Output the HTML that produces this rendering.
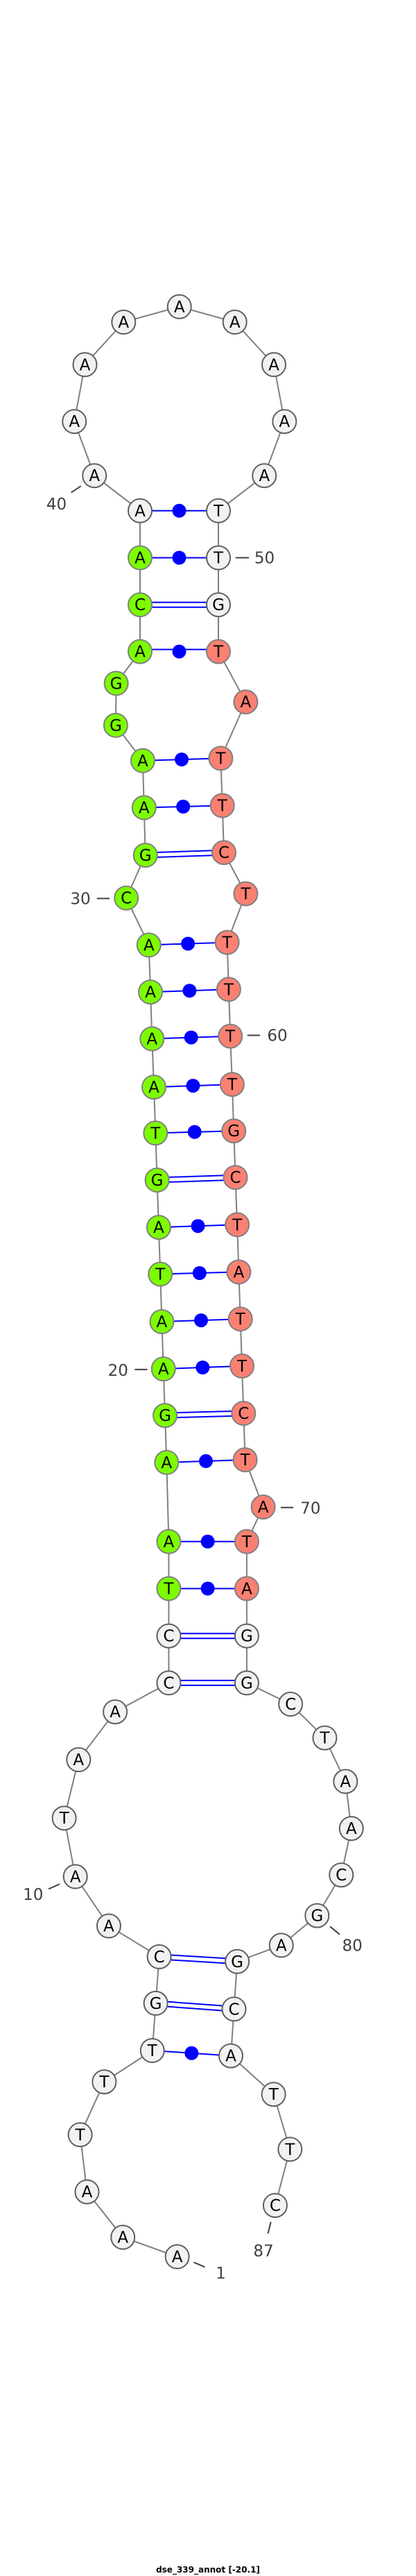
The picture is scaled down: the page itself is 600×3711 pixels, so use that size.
<!DOCTYPE html>
<html><head><meta charset="utf-8"><style>
html,body{margin:0;padding:0;background:#fff;}
svg{display:block;}
.n text{font-family:"DejaVu Sans","Liberation Sans",sans-serif;font-size:23px;text-anchor:middle;fill:#000;}
.w{fill:#f2f2f2;stroke:#5f5f5f;stroke-width:2;}
.g{fill:#7cfc00;stroke:#808080;stroke-width:2;}
.s{fill:#fa8072;stroke:#808080;stroke-width:2;}
.lb{font-family:"DejaVu Sans","Liberation Sans",sans-serif;font-size:23px;fill:#404040;}
</style></head><body>
<svg width="600" height="3711" viewBox="0 0 600 3711" xmlns="http://www.w3.org/2000/svg">
<polyline fill="none" stroke="#808080" stroke-width="2" points="255.6,3251 177.2,3223 125.5,3157.6 115.6,3075.3 150.4,2999.1 219.7,2954 224.6,2885.9 229.6,2818.9 156.9,2774.5 108.7,2703.4 92.6,2619.2 113.3,2535 166.1,2466.1 243.4,2424.4 243.4,2356.7 243.4,2288.5 243.4,2220.8 240.3,2106.8 238,2039.1 235.7,1972.1 233.4,1904 231.2,1835.5 228.9,1768.1 226.6,1700 224.3,1632.3 222,1566.1 219.3,1496.5 217,1429.1 214.7,1361.4 182.2,1293.7 209.7,1232 207.8,1163.5 205.9,1095.8 166.9,1044.9 167.6,984.4 202,938.6 202,871.2 202,803.5 202,735.8 136.2,685.2 107.2,607.2 122.5,525.3 178.3,464 258.7,441.8 338.7,464 395,525.3 410.3,607.2 381.2,685.2 315,735.8 315,803.5 315,871.2 315,938.6 354.4,1011.2 318.4,1092.4 320.7,1160.5 323,1228.2 354.4,1287.5 327.6,1357.6 329.9,1425.3 332.2,1492.7 334.9,1562.2 337.2,1629.2 339.5,1696.2 342.1,1764.3 344.4,1832.4 346.7,1900.2 349,1967.9 351.3,2036 353.6,2103 379.6,2171 355.9,2220.8 355.9,2288.5 355.9,2356.7 355.9,2424.4 419.1,2455 468.4,2503.6 498.3,2566.4 506.7,2634.1 492.2,2701.1 457.3,2759.6 405.7,2802.4 342.1,2825.8 337.5,2894.3 333,2961.6 394.6,3017.1 418.3,3096.3 396.9,3177.1"/>
<g stroke="#0000ff" stroke-width="2" fill="none">
<line x1="202" y1="735.8" x2="315" y2="735.8"/>
<line x1="202" y1="803.5" x2="315" y2="803.5"/>
<line x1="202" y1="935.6" x2="315" y2="935.6"/>
<line x1="205.9" y1="1095.8" x2="318.4" y2="1092.4"/>
<line x1="207.8" y1="1163.5" x2="320.7" y2="1160.5"/>
<line x1="214.7" y1="1361.4" x2="327.6" y2="1357.6"/>
<line x1="217" y1="1429.1" x2="329.9" y2="1425.3"/>
<line x1="219.3" y1="1496.5" x2="332.2" y2="1492.7"/>
<line x1="222" y1="1566.1" x2="334.9" y2="1562.2"/>
<line x1="224.3" y1="1632.3" x2="337.2" y2="1629.2"/>
<line x1="228.9" y1="1768.1" x2="342.1" y2="1764.3"/>
<line x1="231.2" y1="1835.5" x2="344.4" y2="1832.4"/>
<line x1="233.4" y1="1904" x2="346.7" y2="1900.2"/>
<line x1="235.7" y1="1972.1" x2="349" y2="1967.9"/>
<line x1="240.3" y1="2106.8" x2="353.6" y2="2103"/>
<line x1="243.4" y1="2220.8" x2="355.9" y2="2220.8"/>
<line x1="243.4" y1="2288.5" x2="355.9" y2="2288.5"/>
<line x1="219.7" y1="2954" x2="333" y2="2961.6"/>
<!-- doubles -->
<line x1="202" y1="867.7" x2="315" y2="867.7"/><line x1="202" y1="874.7" x2="315" y2="874.7"/>
<line x1="209.7" y1="1228.5" x2="323" y2="1224.7"/><line x1="209.7" y1="1235.5" x2="323" y2="1231.7"/>
<line x1="226.6" y1="1696.5" x2="339.5" y2="1692.7"/><line x1="226.6" y1="1703.5" x2="339.5" y2="1699.7"/>
<line x1="238" y1="2035.6" x2="351.3" y2="2032.5"/><line x1="238" y1="2042.6" x2="351.3" y2="2039.5"/>
<line x1="243.4" y1="2353.2" x2="355.9" y2="2353.2"/><line x1="243.4" y1="2360.2" x2="355.9" y2="2360.2"/>
<line x1="243.4" y1="2420.9" x2="355.9" y2="2420.9"/><line x1="243.4" y1="2427.9" x2="355.9" y2="2427.9"/>
<line x1="229.6" y1="2815.4" x2="342.1" y2="2822.3"/><line x1="229.6" y1="2822.4" x2="342.1" y2="2829.3"/>
<line x1="224.6" y1="2882.4" x2="337.5" y2="2890.8"/><line x1="224.6" y1="2889.4" x2="337.5" y2="2897.8"/>
</g>
<g fill="#0000ff">
<circle cx="258.5" cy="735.8" r="10"/><circle cx="258.5" cy="803.5" r="10"/><circle cx="258.5" cy="938.6" r="10"/>
<circle cx="262" cy="1094.1" r="10"/><circle cx="264.2" cy="1162" r="10"/><circle cx="271.1" cy="1359.5" r="10"/>
<circle cx="273.4" cy="1427.2" r="10"/><circle cx="275.7" cy="1494.6" r="10"/><circle cx="278.4" cy="1564.1" r="10"/>
<circle cx="280.7" cy="1630.7" r="10"/><circle cx="285.5" cy="1766.2" r="10"/><circle cx="287.8" cy="1834" r="10"/>
<circle cx="290" cy="1902.1" r="10"/><circle cx="292.3" cy="1970" r="10"/><circle cx="297" cy="2104.9" r="10"/>
<circle cx="299.6" cy="2220.8" r="10"/><circle cx="299.6" cy="2288.5" r="10"/><circle cx="276.3" cy="2957.8" r="10"/>
</g>
<g class="n">
<circle class="w" cx="255.6" cy="3251" r="17"/><text x="255.6" y="3259">A</text>
<circle class="w" cx="177.2" cy="3223" r="17"/><text x="177.2" y="3231">A</text>
<circle class="w" cx="125.5" cy="3157.6" r="17"/><text x="125.5" y="3165.6">A</text>
<circle class="w" cx="115.6" cy="3075.3" r="17"/><text x="115.6" y="3083.3">T</text>
<circle class="w" cx="150.4" cy="2999.1" r="17"/><text x="150.4" y="3007.1">T</text>
<circle class="w" cx="219.7" cy="2954" r="17"/><text x="219.7" y="2962">T</text>
<circle class="w" cx="224.6" cy="2885.9" r="17"/><text x="224.6" y="2893.9">G</text>
<circle class="w" cx="229.6" cy="2818.9" r="17"/><text x="229.6" y="2826.9">C</text>
<circle class="w" cx="156.9" cy="2774.5" r="17"/><text x="156.9" y="2782.5">A</text>
<circle class="w" cx="108.7" cy="2703.4" r="17"/><text x="108.7" y="2711.4">A</text>
<circle class="w" cx="92.6" cy="2619.2" r="17"/><text x="92.6" y="2627.2">T</text>
<circle class="w" cx="113.3" cy="2535" r="17"/><text x="113.3" y="2543">A</text>
<circle class="w" cx="166.1" cy="2466.1" r="17"/><text x="166.1" y="2474.1">A</text>
<circle class="w" cx="243.4" cy="2424.4" r="17"/><text x="243.4" y="2432.4">C</text>
<circle class="w" cx="243.4" cy="2356.7" r="17"/><text x="243.4" y="2364.7">C</text>
<circle class="g" cx="243.4" cy="2288.5" r="17"/><text x="243.4" y="2296.5">T</text>
<circle class="g" cx="243.4" cy="2220.8" r="17"/><text x="243.4" y="2228.8">A</text>
<circle class="g" cx="240.3" cy="2106.8" r="17"/><text x="240.3" y="2114.8">A</text>
<circle class="g" cx="238" cy="2039.1" r="17"/><text x="238" y="2047.1">G</text>
<circle class="g" cx="235.7" cy="1972.1" r="17"/><text x="235.7" y="1980.1">A</text>
<circle class="g" cx="233.4" cy="1904" r="17"/><text x="233.4" y="1912">A</text>
<circle class="g" cx="231.2" cy="1835.5" r="17"/><text x="231.2" y="1843.5">T</text>
<circle class="g" cx="228.9" cy="1768.1" r="17"/><text x="228.9" y="1776.1">A</text>
<circle class="g" cx="226.6" cy="1700" r="17"/><text x="226.6" y="1708">G</text>
<circle class="g" cx="224.3" cy="1632.3" r="17"/><text x="224.3" y="1640.3">T</text>
<circle class="g" cx="222" cy="1566.1" r="17"/><text x="222" y="1574.1">A</text>
<circle class="g" cx="219.3" cy="1496.5" r="17"/><text x="219.3" y="1504.5">A</text>
<circle class="g" cx="217" cy="1429.1" r="17"/><text x="217" y="1437.1">A</text>
<circle class="g" cx="214.7" cy="1361.4" r="17"/><text x="214.7" y="1369.4">A</text>
<circle class="g" cx="182.2" cy="1293.7" r="17"/><text x="182.2" y="1301.7">C</text>
<circle class="g" cx="209.7" cy="1232" r="17"/><text x="209.7" y="1240">G</text>
<circle class="g" cx="207.8" cy="1163.5" r="17"/><text x="207.8" y="1171.5">A</text>
<circle class="g" cx="205.9" cy="1095.8" r="17"/><text x="205.9" y="1103.8">A</text>
<circle class="g" cx="166.9" cy="1044.9" r="17"/><text x="166.9" y="1052.9">G</text>
<circle class="g" cx="167.6" cy="984.4" r="17"/><text x="167.6" y="992.4">G</text>
<circle class="g" cx="202" cy="938.6" r="17"/><text x="202" y="946.6">A</text>
<circle class="g" cx="202" cy="871.2" r="17"/><text x="202" y="879.2">C</text>
<circle class="g" cx="202" cy="803.5" r="17"/><text x="202" y="811.5">A</text>
<circle class="w" cx="202" cy="735.8" r="17"/><text x="202" y="743.8">A</text>
<circle class="w" cx="136.2" cy="685.2" r="17"/><text x="136.2" y="693.2">A</text>
<circle class="w" cx="107.2" cy="607.2" r="17"/><text x="107.2" y="615.2">A</text>
<circle class="w" cx="122.5" cy="525.3" r="17"/><text x="122.5" y="533.3">A</text>
<circle class="w" cx="178.3" cy="464" r="17"/><text x="178.3" y="472">A</text>
<circle class="w" cx="258.7" cy="441.8" r="17"/><text x="258.7" y="449.8">A</text>
<circle class="w" cx="338.7" cy="464" r="17"/><text x="338.7" y="472">A</text>
<circle class="w" cx="395" cy="525.3" r="17"/><text x="395" y="533.3">A</text>
<circle class="w" cx="410.3" cy="607.2" r="17"/><text x="410.3" y="615.2">A</text>
<circle class="w" cx="381.2" cy="685.2" r="17"/><text x="381.2" y="693.2">A</text>
<circle class="w" cx="315" cy="735.8" r="17"/><text x="315" y="743.8">T</text>
<circle class="w" cx="315" cy="803.5" r="17"/><text x="315" y="811.5">T</text>
<circle class="w" cx="315" cy="871.2" r="17"/><text x="315" y="879.2">G</text>
<circle class="s" cx="315" cy="938.6" r="17"/><text x="315" y="946.6">T</text>
<circle class="s" cx="354.4" cy="1011.2" r="17"/><text x="354.4" y="1019.2">A</text>
<circle class="s" cx="318.4" cy="1092.4" r="17"/><text x="318.4" y="1100.4">T</text>
<circle class="s" cx="320.7" cy="1160.5" r="17"/><text x="320.7" y="1168.5">T</text>
<circle class="s" cx="323" cy="1228.2" r="17"/><text x="323" y="1236.2">C</text>
<circle class="s" cx="354.4" cy="1287.5" r="17"/><text x="354.4" y="1295.5">T</text>
<circle class="s" cx="327.6" cy="1357.6" r="17"/><text x="327.6" y="1365.6">T</text>
<circle class="s" cx="329.9" cy="1425.3" r="17"/><text x="329.9" y="1433.3">T</text>
<circle class="s" cx="332.2" cy="1492.7" r="17"/><text x="332.2" y="1500.7">T</text>
<circle class="s" cx="334.9" cy="1562.2" r="17"/><text x="334.9" y="1570.2">T</text>
<circle class="s" cx="337.2" cy="1629.2" r="17"/><text x="337.2" y="1637.2">G</text>
<circle class="s" cx="339.5" cy="1696.2" r="17"/><text x="339.5" y="1704.2">C</text>
<circle class="s" cx="342.1" cy="1764.3" r="17"/><text x="342.1" y="1772.3">T</text>
<circle class="s" cx="344.4" cy="1832.4" r="17"/><text x="344.4" y="1840.4">A</text>
<circle class="s" cx="346.7" cy="1900.2" r="17"/><text x="346.7" y="1908.2">T</text>
<circle class="s" cx="349" cy="1967.9" r="17"/><text x="349" y="1975.9">T</text>
<circle class="s" cx="351.3" cy="2036" r="17"/><text x="351.3" y="2044">C</text>
<circle class="s" cx="353.6" cy="2103" r="17"/><text x="353.6" y="2111">T</text>
<circle class="s" cx="379.6" cy="2171" r="17"/><text x="379.6" y="2179">A</text>
<circle class="s" cx="355.9" cy="2220.8" r="17"/><text x="355.9" y="2228.8">T</text>
<circle class="s" cx="355.9" cy="2288.5" r="17"/><text x="355.9" y="2296.5">A</text>
<circle class="w" cx="355.9" cy="2356.7" r="17"/><text x="355.9" y="2364.7">G</text>
<circle class="w" cx="355.9" cy="2424.4" r="17"/><text x="355.9" y="2432.4">G</text>
<circle class="w" cx="419.1" cy="2455" r="17"/><text x="419.1" y="2463">C</text>
<circle class="w" cx="468.4" cy="2503.6" r="17"/><text x="468.4" y="2511.6">T</text>
<circle class="w" cx="498.3" cy="2566.4" r="17"/><text x="498.3" y="2574.4">A</text>
<circle class="w" cx="506.7" cy="2634.1" r="17"/><text x="506.7" y="2642.1">A</text>
<circle class="w" cx="492.2" cy="2701.1" r="17"/><text x="492.2" y="2709.1">C</text>
<circle class="w" cx="457.3" cy="2759.6" r="17"/><text x="457.3" y="2767.6">G</text>
<circle class="w" cx="405.7" cy="2802.4" r="17"/><text x="405.7" y="2810.4">A</text>
<circle class="w" cx="342.1" cy="2825.8" r="17"/><text x="342.1" y="2833.8">G</text>
<circle class="w" cx="337.5" cy="2894.3" r="17"/><text x="337.5" y="2902.3">C</text>
<circle class="w" cx="333" cy="2961.6" r="17"/><text x="333" y="2969.6">A</text>
<circle class="w" cx="394.6" cy="3017.1" r="17"/><text x="394.6" y="3025.1">T</text>
<circle class="w" cx="418.3" cy="3096.3" r="17"/><text x="418.3" y="3104.3">T</text>
<circle class="w" cx="396.9" cy="3177.1" r="17"/><text x="396.9" y="3185.1">C</text>
</g>
<g stroke="#404040" stroke-width="2">
<line x1="102.6" y1="709.7" x2="116.7" y2="700.2"/>
<line x1="339.8" y1="803.5" x2="359" y2="803.5"/>
<line x1="139.7" y1="1294.4" x2="158" y2="1294.4"/>
<line x1="356.7" y1="1491.5" x2="375" y2="1491.5"/>
<line x1="194.4" y1="1972.9" x2="212.4" y2="1972.9"/>
<line x1="404.9" y1="2171.8" x2="423.3" y2="2171.8"/>
<line x1="70" y1="2721.4" x2="86.1" y2="2714.1"/>
<line x1="476" y1="2775.3" x2="489.9" y2="2786.7"/>
<line x1="279.4" y1="3259" x2="295.4" y2="3265.9"/>
<line x1="390.7" y1="3200.8" x2="386.5" y2="3217.6"/>
</g>
<g class="lb" dominant-baseline="central" text-anchor="middle">
<text x="81.5" y="727">40</text>
<text x="381.5" y="804.6">50</text>
<text x="116" y="1295.6">30</text>
<text x="400" y="1492.3">60</text>
<text x="170.3" y="1974.8">20</text>
<text x="447.8" y="2173.7">70</text>
<text x="47.8" y="2729.8">10</text>
<text x="508.2" y="2803.6">80</text>
<text x="318.4" y="3275.4">1</text>
<text x="380" y="3243.7">87</text>
</g>
<text x="300" y="3706" text-anchor="middle" font-family="'DejaVu Sans','Liberation Sans',sans-serif" font-size="12" font-weight="bold" fill="#000">dse_339_annot [-20.1]</text>
</svg>
</body></html>
